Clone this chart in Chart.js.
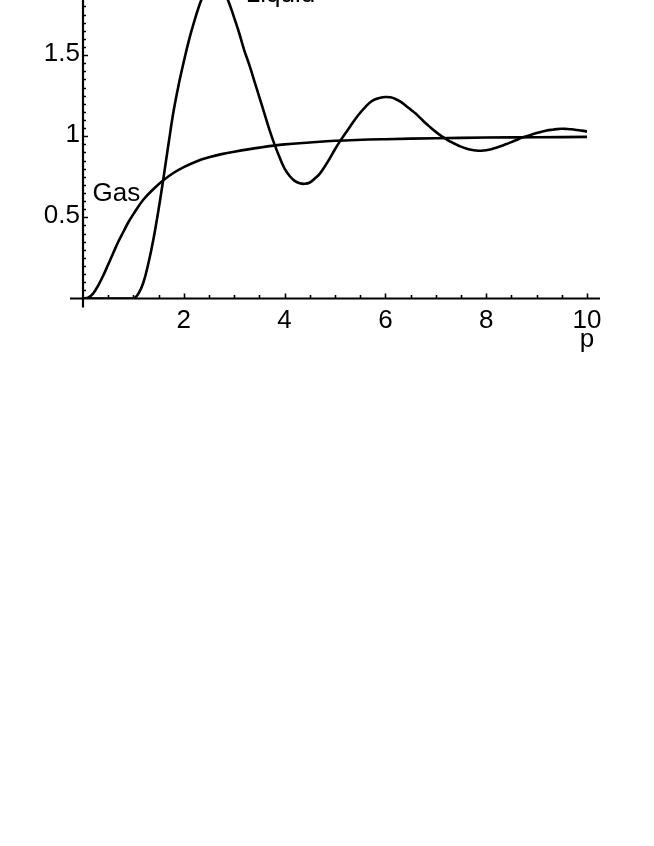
<!DOCTYPE html>
<html>
<head>
<meta charset="utf-8">
<script src="https://cdn.jsdelivr.net/npm/chart.js@4/dist/chart.umd.min.js"></script>
<style>
html,body{margin:0;padding:0;background:#fff;}
#c{display:block;}
</style>
</head>
<body>
<canvas id="c" width="654" height="846"></canvas>
<script>
// ---- data ----
const gasX = [0, 0.1, 0.2, 0.3, 0.4, 0.5, 0.6, 0.7, 0.8, 0.9, 1.0, 1.2, 1.4, 1.6, 1.8, 2.0, 2.25, 2.5, 2.75, 3.0, 3.5, 4.0, 4.5, 5.0, 6.0, 7.0, 8.0, 9.0, 10.0];
const gasY = [0, 0.005, 0.03, 0.08, 0.14, 0.21, 0.28, 0.35, 0.41, 0.47, 0.52, 0.61, 0.675, 0.73, 0.775, 0.81, 0.845, 0.87, 0.89, 0.905, 0.93, 0.95, 0.962, 0.972, 0.982, 0.988, 0.992, 0.994, 0.996];

const liquidX = [0, 0.5, 1.0, 1.1, 1.2, 1.3, 1.4, 1.5, 1.6, 1.7, 1.8, 1.9, 2.0, 2.1, 2.2, 2.3, 2.4, 2.5, 2.6, 2.7, 2.8, 2.9, 3.0, 3.1, 3.2, 3.3, 3.4, 3.5, 3.6, 3.7, 3.8, 3.9, 4.0, 4.1, 4.2, 4.3, 4.4, 4.5, 4.6, 4.7, 4.8, 4.9, 5.0, 5.1, 5.2, 5.3, 5.4, 5.5, 5.6, 5.7, 5.8, 5.9, 6.0, 6.1, 6.2, 6.3, 6.4, 6.5, 6.6, 6.7, 6.8, 6.9, 7.0, 7.1, 7.2, 7.3, 7.4, 7.5, 7.6, 7.7, 7.8, 7.9, 8.0, 8.1, 8.2, 8.3, 8.4, 8.5, 8.6, 8.7, 8.8, 8.9, 9.0, 9.1, 9.2, 9.3, 9.4, 9.5, 9.6, 9.7, 9.8, 9.9, 10.0];
const liquidY = [0, 0, 0, 0.03, 0.10, 0.22, 0.37, 0.55, 0.75, 0.96, 1.16, 1.32, 1.46, 1.59, 1.70, 1.80, 1.88, 1.94, 1.96, 1.94, 1.89, 1.82, 1.73, 1.635, 1.53, 1.44, 1.34, 1.24, 1.14, 1.04, 0.95, 0.87, 0.80, 0.755, 0.725, 0.71, 0.707, 0.715, 0.74, 0.77, 0.815, 0.865, 0.92, 0.97, 1.015, 1.06, 1.105, 1.145, 1.18, 1.21, 1.228, 1.238, 1.242, 1.24, 1.23, 1.213, 1.19, 1.165, 1.14, 1.11, 1.08, 1.053, 1.027, 1.004, 0.984, 0.965, 0.95, 0.936, 0.925, 0.917, 0.912, 0.911, 0.914, 0.92, 0.929, 0.94, 0.952, 0.964, 0.977, 0.99, 1.0, 1.01, 1.02, 1.028, 1.035, 1.04, 1.044, 1.046, 1.045, 1.043, 1.039, 1.035, 1.03];

const xTickLabels = [2, 4, 6, 8, 10];
const yTickLabels = [0.5, 1, 1.5];
const curveLabels = ['Gas', 'Liquid'];
const curveLabelX = [0.19, 3.23];
const curveLabelY = [0.599, 1.83];
const xAxisTitle = 'p';

// ---- layout / style ----
const FONT = '26px "Liberation Sans", Arial, sans-serif';
const X_MIN = 0, X_MAX = 10, Y_MIN = 0, Y_MAX = 1.84;

function pts(xs, ys) { return xs.map((x, i) => ({x: x, y: ys[i]})); }

const axesPlugin = {
  id: 'mmaAxes',
  afterDraw(chart) {
    const ctx = chart.ctx;
    const xs = chart.scales.x, ys = chart.scales.y;
    const x0 = xs.getPixelForValue(0), y0 = ys.getPixelForValue(0);
    ctx.save();
    ctx.strokeStyle = '#000';
    ctx.fillStyle = '#000';
    ctx.lineWidth = 2.2;
    ctx.lineCap = 'butt';
    // axis lines
    ctx.beginPath();
    ctx.moveTo(x0 - 13, y0);
    ctx.lineTo(xs.getPixelForValue(X_MAX) + 13, y0);
    ctx.moveTo(x0, 0);
    ctx.lineTo(x0, y0 + 9);
    ctx.stroke();
    // x ticks (inward, upward)
    ctx.lineWidth = 1.6;
    ctx.beginPath();
    for (let v = 0.5; v <= X_MAX + 1e-9; v += 0.5) {
      const px = Math.round(xs.getPixelForValue(v)) + 0.5;
      const major = Math.abs(v / 2 - Math.round(v / 2)) < 1e-6;
      ctx.moveTo(px, y0);
      ctx.lineTo(px, y0 - (major ? 5 : 3.5));
    }
    // y ticks (inward, rightward)
    for (let v = 0.05; v <= Y_MAX + 1e-9; v += 0.05) {
      const py = Math.round(ys.getPixelForValue(v)) + 0.5;
      const k = Math.round(v / 0.05);
      const major = k % 10 === 0;
      ctx.moveTo(x0, py);
      ctx.lineTo(x0 + (major ? 5 : 3), py);
    }
    ctx.stroke();
    // tick labels
    ctx.font = FONT;
    ctx.textAlign = 'center';
    ctx.textBaseline = 'alphabetic';
    xTickLabels.forEach(v => {
      ctx.fillText(String(v), xs.getPixelForValue(v), y0 + 29.5);
    });
    ctx.fillText(xAxisTitle, xs.getPixelForValue(X_MAX), y0 + 48.5);
    ctx.textAlign = 'right';
    ctx.textBaseline = 'middle';
    yTickLabels.forEach(v => {
      ctx.fillText(String(v), x0 - 3, ys.getPixelForValue(v) - 1.5);
    });
    // curve labels
    ctx.textAlign = 'left';
    ctx.textBaseline = 'alphabetic';
    curveLabels.forEach((t, i) => {
      ctx.fillText(t, xs.getPixelForValue(curveLabelX[i]), ys.getPixelForValue(curveLabelY[i]));
    });
    ctx.restore();
  }
};

new Chart(document.getElementById('c'), {
  type: 'scatter',
  data: {
    datasets: [
      {label: 'Gas', data: pts(gasX, gasY)},
      {label: 'Liquid', data: pts(liquidX, liquidY)}
    ]
  },
  options: {
    responsive: false,
    animation: false,
    showLine: true,
    layout: {padding: {left: 83, right: 67, top: 0, bottom: 547.5}},
    elements: {
      point: {radius: 0, hoverRadius: 0},
      line: {borderColor: '#000', borderWidth: 2.6, tension: 0.4, fill: false, borderJoinStyle: 'round', borderCapStyle: 'round'}
    },
    plugins: {legend: {display: false}, tooltip: {enabled: false}},
    scales: {
      x: {type: 'linear', min: X_MIN, max: X_MAX, display: false},
      y: {type: 'linear', min: Y_MIN, max: Y_MAX, display: false}
    }
  },
  plugins: [axesPlugin]
});
</script>
</body>
</html>
